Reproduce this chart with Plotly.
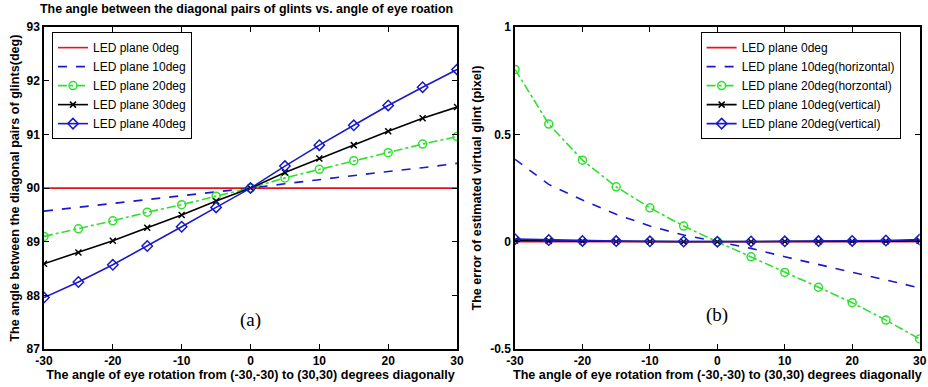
import plotly.graph_objects as go

# ---------------- data ----------------
rotation = [-30, -25, -20, -15, -10, -5, 0, 5, 10, 15, 20, 25, 30]

# (a) angle between diagonal pairs of glints (deg)
a_led0 = [90.0] * 13
a_led10 = [89.57, 89.64, 89.71, 89.79, 89.86, 89.93, 90.0, 90.08, 90.16, 90.23, 90.31, 90.38, 90.46]
a_led20 = [89.10, 89.24, 89.39, 89.55, 89.69, 89.85, 90.0, 90.19, 90.35, 90.51, 90.66, 90.82, 90.96]
a_led30 = [88.59, 88.80, 89.02, 89.26, 89.50, 89.76, 90.0, 90.29, 90.55, 90.80, 91.06, 91.30, 91.51]
a_led40 = [87.96, 88.25, 88.57, 88.92, 89.28, 89.64, 90.0, 90.41, 90.80, 91.17, 91.54, 91.88, 92.21]

# (b) error of estimated virtual glint (pixel)
b_led0 = [0.0] * 13
b_led10h = [0.384, 0.267, 0.194, 0.128, 0.073, 0.031, 0.0, -0.031, -0.070, -0.105, -0.140, -0.178, -0.215]
b_led20h = [0.803, 0.548, 0.380, 0.256, 0.158, 0.073, 0.0, -0.070, -0.143, -0.212, -0.284, -0.365, -0.453]
b_led10v = [0.006, 0.004, 0.002, 0.001, 0.001, 0.0, 0.0, 0.0, 0.001, 0.001, 0.002, 0.003, 0.005]
b_led20v = [0.012, 0.008, 0.004, 0.003, 0.002, 0.001, 0.0, 0.001, 0.002, 0.003, 0.004, 0.006, 0.010]

x_ticks = [-30, -20, -10, 0, 10, 20, 30]
x_ticktext = ["-30", "-20", "-10", "0", "10", "20", "30"]
ya_ticks = [87, 88, 89, 90, 91, 92, 93]
ya_ticktext = ["87", "88", "89", "90", "91", "92", "93"]
yb_ticks = [-0.5, 0, 0.5, 1]
yb_ticktext = ["-0.5", "0", "0.5", "1"]

title_text = "The angle between the diagonal pairs of glints vs. angle of eye roation"
xtitle = "The angle of eye rotation from (-30,-30) to (30,30) degrees diagonally"
ya_title = "The angle between the diagonal pairs of glints(deg)"
yb_title = "The error of estimated virtual glint (pixel)"

RED = "#e4141c"
BLUE = "#1a1ac8"
GREEN = "#30e030"
BLACK = "#000000"

fig = go.Figure()

def add(x, y, name, color, dash, marker, xa, ya, legend, msize=7):
    mode = "lines+markers" if marker else "lines"
    fig.add_trace(go.Scatter(
        x=x, y=y, name=name, mode=mode, xaxis=xa, yaxis=ya, legend=legend,
        line=dict(color=color, width=1.6, dash=dash),
        marker=dict(symbol=marker or "circle", size=msize, color=color,
                    line=dict(color=color, width=1.5)),
    ))

# left panel
add(rotation, a_led0, "LED plane 0deg", RED, "solid", None, "x", "y", "legend")
add(rotation, a_led10, "LED plane 10deg", BLUE, "dash", None, "x", "y", "legend")
add(rotation, a_led20, "LED plane 20deg", GREEN, "dashdot", "circle-open", "x", "y", "legend", 8)
add(rotation, a_led30, "LED plane 30deg", BLACK, "solid", "x-thin-open", "x", "y", "legend", 6)
add(rotation, a_led40, "LED plane 40deg", BLUE, "solid", "diamond-open", "x", "y", "legend", 8)

# right panel
add(rotation, b_led0, "LED plane 0deg", RED, "solid", None, "x2", "y2", "legend2")
add(rotation, b_led10h, "LED plane 10deg(horizontal)", BLUE, "dash", None, "x2", "y2", "legend2")
add(rotation, b_led20h, "LED plane 20deg(horzontal)", GREEN, "dashdot", "circle-open", "x2", "y2", "legend2", 8)
add(rotation, b_led10v, "LED plane 10deg(vertical)", BLACK, "solid", "x-thin-open", "x2", "y2", "legend2", 6)
add(rotation, b_led20v, "LED plane 20deg(vertical)", BLUE, "solid", "diamond-open", "x2", "y2", "legend2", 8)

FONT = "Liberation Sans"
tickfont = dict(family=FONT, size=12, color="black", weight="bold")
titlefont = dict(family=FONT, size=12.6, color="black", weight="bold")

axis_common = dict(
    showline=True, linecolor="black", linewidth=1.5, mirror="allticks",
    ticks="inside", ticklen=5, tickwidth=1.3, tickcolor="black",
    showgrid=False, zeroline=False, tickfont=tickfont, automargin=False,
    ticklabeloverflow="allow",
)

fig.update_layout(
    width=928, height=387,
    margin=dict(l=0, r=0, t=0, b=0, autoexpand=False),
    paper_bgcolor="white", plot_bgcolor="white",
    showlegend=True,
    xaxis=dict(domain=[0.0474, 0.4925], range=[-30, 30], tickvals=x_ticks, ticktext=x_ticktext,
               anchor="y", title=dict(text=xtitle, font=titlefont, standoff=0), **axis_common),
    yaxis=dict(domain=[0.098, 0.930], range=[87, 93], tickvals=ya_ticks, ticktext=ya_ticktext,
               anchor="x", title=dict(text=ya_title, font=titlefont, standoff=4), **axis_common),
    xaxis2=dict(domain=[0.555, 0.991], range=[-30, 30], tickvals=x_ticks, ticktext=x_ticktext,
                anchor="y2", title=dict(text=xtitle, font=titlefont, standoff=0), **axis_common),
    yaxis2=dict(domain=[0.098, 0.930], range=[-0.5, 1], tickvals=yb_ticks, ticktext=yb_ticktext,
                anchor="x2", title=dict(text=yb_title, font=titlefont, standoff=6), **axis_common),
    legend=dict(x=0.056, y=0.917, xanchor="left", yanchor="top",
                bgcolor="white", bordercolor="black", borderwidth=1,
                font=dict(family=FONT, size=12, color="black"), tracegroupgap=0),
    legend2=dict(x=0.755, y=0.917, xanchor="left", yanchor="top",
                 bgcolor="white", bordercolor="black", borderwidth=1,
                 font=dict(family=FONT, size=12, color="black"), tracegroupgap=0),
    annotations=[
        dict(text=title_text, x=0.266, y=1.0, xref="paper", yref="paper",
             xanchor="center", yanchor="top", showarrow=False,
             font=dict(family=FONT, size=12.4, color="black", weight="bold")),
        dict(text="(a)", x=0, y=88, xref="x", yref="y", yshift=-25, showarrow=False,
             font=dict(family="Liberation Serif", size=19, color="black")),
        dict(text="(b)", x=0, y=-0.5, xref="x2", yref="y2", yshift=34, showarrow=False,
             font=dict(family="Liberation Serif", size=19, color="black")),
    ],
)

fig.write_html("out.html",
               config={"displayModeBar": False},
               post_script="document.body.style.margin='0';document.body.style.overflow='hidden';")
